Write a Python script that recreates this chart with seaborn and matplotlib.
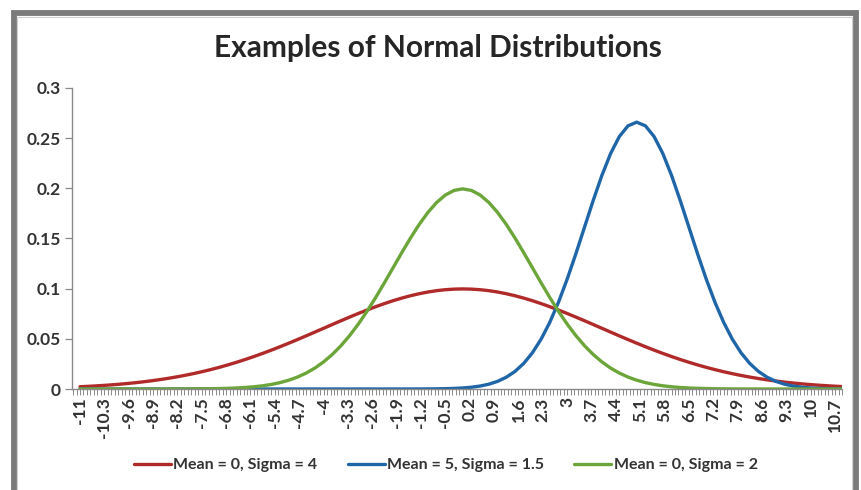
import numpy as np
import matplotlib
matplotlib.use("Agg")
import matplotlib.pyplot as plt
from matplotlib.patches import Rectangle
from matplotlib.ticker import MultipleLocator
import seaborn as sns

# x categories (step 0.25 from -11 to 11)
x_vals = [-11.0, -10.75, -10.5, -10.25, -10.0, -9.75, -9.5, -9.25, -9.0, -8.75, -8.5, -8.25,
          -8.0, -7.75, -7.5, -7.25, -7.0, -6.75, -6.5, -6.25, -6.0, -5.75, -5.5, -5.25,
          -5.0, -4.75, -4.5, -4.25, -4.0, -3.75, -3.5, -3.25, -3.0, -2.75, -2.5, -2.25,
          -2.0, -1.75, -1.5, -1.25, -1.0, -0.75, -0.5, -0.25, 0.0, 0.25, 0.5, 0.75,
          1.0, 1.25, 1.5, 1.75, 2.0, 2.25, 2.5, 2.75, 3.0, 3.25, 3.5, 3.75,
          4.0, 4.25, 4.5, 4.75, 5.0, 5.25, 5.5, 5.75, 6.0, 6.25, 6.5, 6.75,
          7.0, 7.25, 7.5, 7.75, 8.0, 8.25, 8.5, 8.75, 9.0, 9.25, 9.5, 9.75,
          10.0, 10.25, 10.5, 10.75, 11.0]

# Mean = 0, Sigma = 4
red_vals = [0.00227, 0.00269, 0.00318, 0.00374, 0.00438, 0.00511, 0.00594, 0.00688, 0.00794,
            0.00912, 0.01043, 0.01189, 0.01350, 0.01527, 0.01720, 0.01930, 0.02157, 0.02402,
            0.02664, 0.02942, 0.03238, 0.03549, 0.03875, 0.04215, 0.04566, 0.04928, 0.05297,
            0.05672, 0.06049, 0.06427, 0.06802, 0.07170, 0.07528, 0.07874, 0.08204, 0.08514,
            0.08802, 0.09063, 0.09296, 0.09498, 0.09667, 0.09800, 0.09896, 0.09954,
            0.09974, 0.09954, 0.09896, 0.09800, 0.09667, 0.09498, 0.09296, 0.09063, 0.08802,
            0.08514, 0.08204, 0.07874, 0.07528, 0.07170, 0.06802, 0.06427, 0.06049, 0.05672,
            0.05297, 0.04928, 0.04566, 0.04215, 0.03875, 0.03549, 0.03238, 0.02942, 0.02664,
            0.02402, 0.02157, 0.01930, 0.01720, 0.01527, 0.01350, 0.01189, 0.01043, 0.00912,
            0.00794, 0.00688, 0.00594, 0.00511, 0.00438, 0.00374, 0.00318, 0.00269, 0.00227]

# Mean = 5, Sigma = 1.5
blue_vals = [0, 0, 0, 0, 0, 0, 0, 0, 0, 0, 0, 0, 0, 0, 0, 0, 0, 0, 0, 0, 0, 0, 0, 0, 0, 0, 0,
             0, 0, 0, 0, 0, 0, 0, 0, 0, 0,
             0.00001, 0.00002, 0.00005, 0.00009, 0.00017, 0.00032, 0.00058, 0.00103, 0.00177,
             0.00295, 0.00480, 0.00760, 0.01169, 0.01748, 0.02543, 0.03599, 0.04954, 0.06632,
             0.08634, 0.10934, 0.13467, 0.16131, 0.18794, 0.21297, 0.23471, 0.25159, 0.26229,
             0.26596, 0.26229, 0.25159, 0.23471, 0.21297, 0.18794, 0.16131, 0.13467, 0.10934,
             0.08634, 0.06632, 0.04954, 0.03599, 0.02543, 0.01748, 0.01169, 0.00760, 0.00480,
             0.00295, 0.00177, 0.00103, 0.00058, 0.00032, 0.00017, 0.00009]

# Mean = 0, Sigma = 2
green_vals = [0, 0, 0, 0, 0, 0, 0, 0,
              0.00001, 0.00001, 0.00002, 0.00004, 0.00007, 0.00011, 0.00018, 0.00028, 0.00044,
              0.00067, 0.00101, 0.00151, 0.00222, 0.00320, 0.00455, 0.00636, 0.00877, 0.01189,
              0.01587, 0.02086, 0.02700, 0.03439, 0.04314, 0.05327, 0.06476, 0.07751, 0.09132,
              0.10594, 0.12098, 0.13603, 0.15057, 0.16408, 0.17603, 0.18593, 0.19333, 0.19792,
              0.19947, 0.19792, 0.19333, 0.18593, 0.17603, 0.16408, 0.15057, 0.13603, 0.12098,
              0.10594, 0.09132, 0.07751, 0.06476, 0.05327, 0.04314, 0.03439, 0.02700, 0.02086,
              0.01587, 0.01189, 0.00877, 0.00636, 0.00455, 0.00320, 0.00222, 0.00151, 0.00101,
              0.00067, 0.00044, 0.00028, 0.00018, 0.00011, 0.00007, 0.00004, 0.00002, 0.00001,
              0.00001, 0, 0, 0, 0, 0, 0, 0, 0]

series_labels = ["Mean = 0, Sigma = 4", "Mean = 5, Sigma = 1.5", "Mean = 0, Sigma = 2"]
x_tick_labels = ["-11", "-10.3", "-9.6", "-8.9", "-8.2", "-7.5", "-6.8", "-6.1", "-5.4",
                 "-4.7", "-4", "-3.3", "-2.6", "-1.9", "-1.2", "-0.5", "0.2", "0.9", "1.6",
                 "2.3", "3", "3.7", "4.4", "5.1", "5.8", "6.5", "7.2", "7.9", "8.6", "9.3",
                 "10", "10.7"]
y_ticks = [0, 0.05, 0.1, 0.15, 0.2, 0.25, 0.3]
y_tick_labels = ["0", "0.05", "0.1", "0.15", "0.2", "0.25", "0.3"]

sns.set_theme(style="white")
plt.rcParams['font.family'] = ['Lato', 'DejaVu Sans']

W, H = 861, 490
fig = plt.figure(figsize=(W / 100, H / 100), dpi=100)
fig.patch.set_facecolor("white")

# window frame like the Excel screenshot
fig.patches.append(Rectangle((13.5 / W, -0.05), (856 - 13.5) / W, (H - 13.5) / H + 0.05,
                             transform=fig.transFigure, fill=False,
                             edgecolor="#7b7b7b", linewidth=4.2, zorder=0))
fig.patches.append(Rectangle((17 / W, -0.05), (852 - 17) / W, (H - 17) / H + 0.05,
                             transform=fig.transFigure, fill=False,
                             edgecolor="#d0d0d0", linewidth=0.8, zorder=0))

ax = fig.add_axes([72 / W, (H - 389) / H, (842 - 72) / W, (389 - 88) / H])

colors = ["#b02a2a", "#1f66a8", "#6ca63a"]
for vals, lab, col in zip([red_vals, blue_vals, green_vals], series_labels, colors):
    sns.lineplot(x=x_vals, y=vals, color=col, linewidth=2.4, label=lab, ax=ax)

ax.set_xlim(-11.23, 10.9)
ax.set_ylim(0, 0.3)

tick_font = {"size": 12.5, "weight": "bold", "color": "#333333"}
ax.set_yticks(y_ticks)
ax.set_yticklabels(y_tick_labels, fontdict=tick_font)
ax.set_xticks([float(t) for t in x_tick_labels])
ax.set_xticklabels(x_tick_labels, rotation=90, fontdict=tick_font)
ax.xaxis.set_minor_locator(MultipleLocator(0.1))

for side in ["top", "right"]:
    ax.spines[side].set_visible(False)
for side in ["left", "bottom"]:
    ax.spines[side].set_color("#8a8a8a")
    ax.spines[side].set_linewidth(1.0)

ax.tick_params(axis="y", which="major", direction="out", length=5, width=0.9,
               color="#8a8a8a", pad=3, left=True)
ax.tick_params(axis="x", which="both", direction="out", length=4, width=0.7,
               color="#8a8a8a", pad=2, bottom=True)
ax.grid(False)
ax.set_xlabel("")
ax.set_ylabel("")

ax.get_legend().remove()
handles, labels = ax.get_legend_handles_labels()
fig.legend(handles, labels, loc="center", bbox_to_anchor=(446 / W, (H - 465) / H), ncol=3,
           frameon=False, handlelength=2.3, handletextpad=0.15, columnspacing=1.9,
           labelcolor="#333333", prop={"size": 11.5, "weight": "bold"})

fig.text(438 / W, (H - 48) / H, "Examples of Normal Distributions", ha="center", va="center",
         fontsize=21.5, fontweight="bold", color="#262626")

fig.savefig("out.png", dpi=100)
